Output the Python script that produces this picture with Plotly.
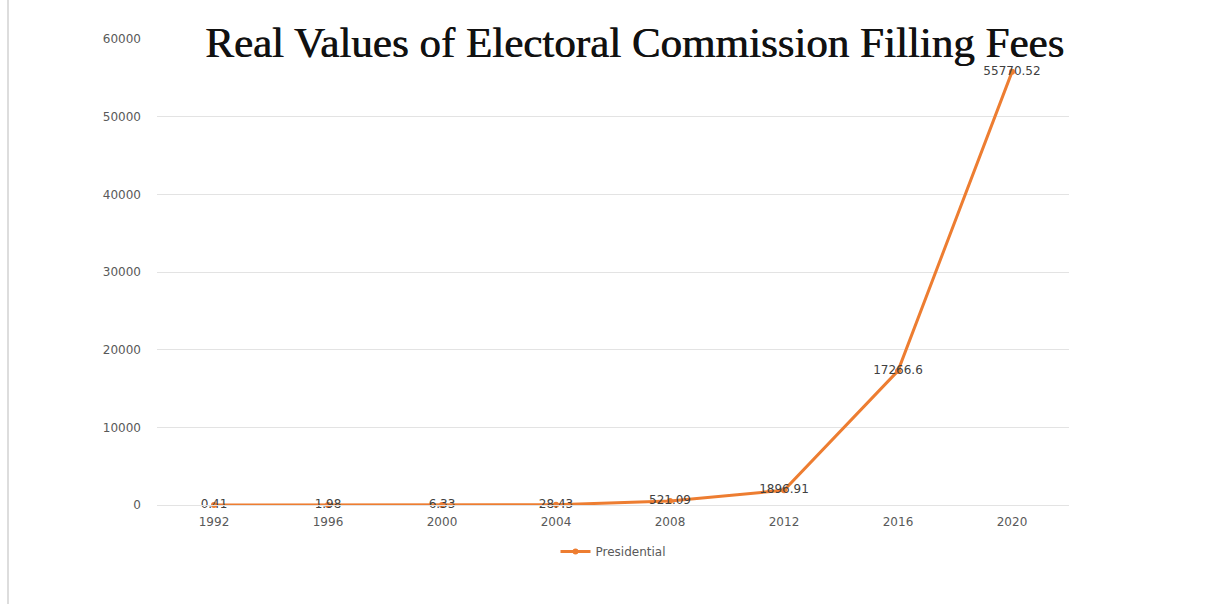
import plotly.graph_objects as go

# Presidential filing fees, real values by election year
years = ["1992", "1996", "2000", "2004", "2008", "2012", "2016", "2020"]
presidential = [0.41, 1.98, 6.33, 28.43, 521.09, 1896.91, 17266.6, 55770.52]
value_labels = ["0.41", "1.98", "6.33", "28.43", "521.09", "1896.91", "17266.6", "55770.52"]
y_ticks = [0, 10000, 20000, 30000, 40000, 50000, 60000]

W, H = 1209, 604
L, R, T, B = 157, 140, 39, 99
PW = W - L - R
PH = H - T - B

fig = go.Figure()
fig.add_trace(go.Scatter(
    x=years, y=presidential,
    mode="lines+markers+text",
    name="Presidential",
    line=dict(color="#ED7D31", width=3),
    marker=dict(color="#ED7D31", size=6),
    text=value_labels,
    textposition="middle center",
    textfont=dict(family="DejaVu Sans", size=12, color="#404040"),
    cliponaxis=False,
))

fig.update_layout(
    width=W, height=H,
    margin=dict(l=L, r=R, t=T, b=B),
    paper_bgcolor="white", plot_bgcolor="white",
    showlegend=True,
    legend=dict(orientation="h", x=0.5, xanchor="center", y=1 - (537 - T) / PH, yanchor="top",
                font=dict(family="DejaVu Sans", size=12, color="#595959")),
    xaxis=dict(type="category", range=[-0.5, 7.5], showgrid=False, showline=True,
               linecolor="#e3e3e3", linewidth=1, ticks="", ticklabelstandoff=6,
               tickfont=dict(family="DejaVu Sans", size=12, color="#595959"),
               zeroline=False),
    yaxis=dict(range=[0, 60000], tickvals=y_ticks, showgrid=True, gridcolor="#e3e3e3",
               gridwidth=1, zeroline=False, showline=False, ticks="",
               ticklabelstandoff=15, tickformat="d",
               tickfont=dict(family="DejaVu Sans", size=12, color="#595959")),
    annotations=[dict(
        text="Real Values of Electoral Commission Filling Fees",
        xref="paper", yref="paper", x=(634 - L) / PW, y=1 - (43 - T) / PH,
        xanchor="center", yanchor="middle",
        showarrow=False,
        font=dict(family="Liberation Serif", size=43, color="#111111",
                  shadow="0.7px 0px 0px #111111"),
    )],
    shapes=[dict(type="line", xref="paper", yref="paper",
                 x0=(8 - L) / PW, x1=(8 - L) / PW, y0=-0.3, y1=1.2,
                 line=dict(color="#dddddd", width=2))],
)

fig.write_html("out.html")
